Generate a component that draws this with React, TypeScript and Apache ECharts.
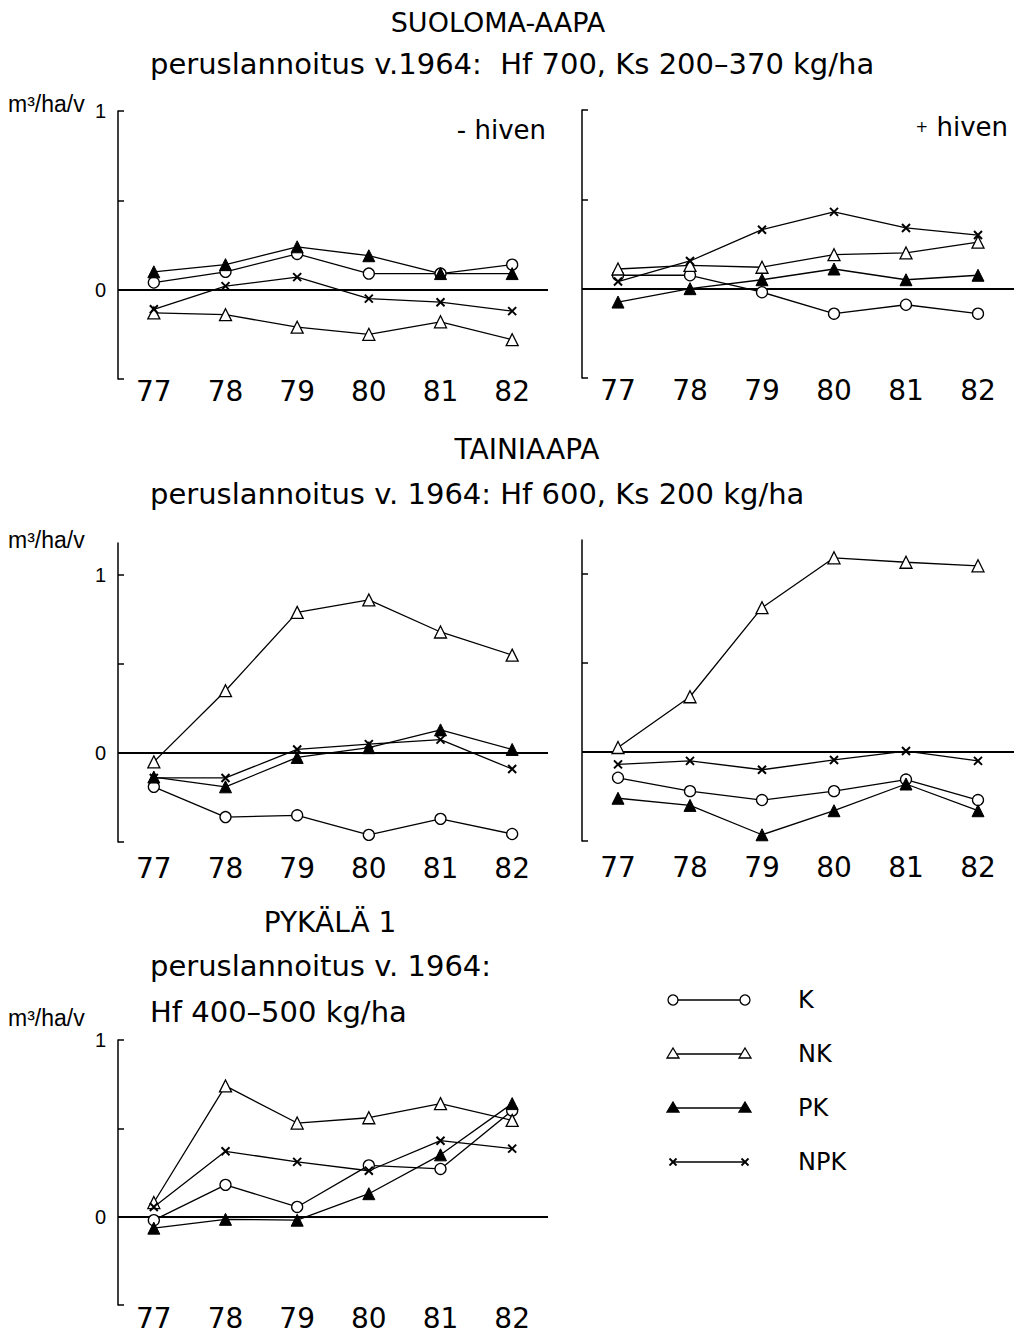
import React, { useEffect, useRef } from "react";
import * as echarts from "echarts";

const years = ["77", "78", "79", "80", "81", "82"];
const seriesNames = ["K", "NK", "PK", "NPK"];

// SUOLOMA-AAPA, - hiven
const suoMinusK = [0.04, 0.1, 0.2, 0.09, 0.09, 0.14];
const suoMinusNK = [-0.13, -0.14, -0.21, -0.25, -0.18, -0.28];
const suoMinusPK = [0.1, 0.14, 0.24, 0.19, 0.09, 0.09];
const suoMinusNPK = [-0.11, 0.02, 0.07, -0.05, -0.07, -0.12];
// SUOLOMA-AAPA, + hiven
const suoPlusK = [0.075, 0.075, -0.02, -0.14, -0.09, -0.14];
const suoPlusNK = [0.11, 0.13, 0.12, 0.19, 0.2, 0.26];
const suoPlusPK = [-0.075, 0.0, 0.05, 0.11, 0.05, 0.075];
const suoPlusNPK = [0.04, 0.155, 0.33, 0.43, 0.34, 0.3];
// TAINIAAPA, left
const taiMinusK = [-0.19, -0.36, -0.35, -0.46, -0.37, -0.455];
const taiMinusNK = [-0.05, 0.35, 0.79, 0.86, 0.68, 0.55];
const taiMinusPK = [-0.135, -0.19, -0.025, 0.03, 0.13, 0.02];
const taiMinusNPK = [-0.14, -0.14, 0.02, 0.05, 0.075, -0.09];
// TAINIAAPA, right
const taiPlusK = [-0.145, -0.22, -0.27, -0.22, -0.155, -0.27];
const taiPlusNK = [0.025, 0.31, 0.81, 1.09, 1.065, 1.045];
const taiPlusPK = [-0.26, -0.3, -0.465, -0.33, -0.18, -0.33];
const taiPlusNPK = [-0.07, -0.05, -0.1, -0.045, 0.005, -0.05];
// PYKÄLÄ 1
const pykK = [-0.02, 0.18, 0.055, 0.29, 0.27, 0.6];
const pykNK = [0.08, 0.74, 0.53, 0.56, 0.64, 0.545];
const pykPK = [-0.065, -0.015, -0.02, 0.13, 0.35, 0.64];
const pykNPK = [0.055, 0.37, 0.31, 0.26, 0.43, 0.385];

const yTickValues = [-0.5, 0, 0.5, 1];
const yLabelValues = [0, 1];

const FONT = "'DejaVu Sans', 'Liberation Sans', Arial, sans-serif";
const THIN = "'Liberation Sans', Arial, sans-serif";

const markerStyles: Record<string, any> = {
  K: { symbol: "circle", symbolSize: 11, itemStyle: { color: "#fff", borderColor: "#000", borderWidth: 1.3 } },
  NK: { symbol: "triangle", symbolSize: 12, itemStyle: { color: "#fff", borderColor: "#000", borderWidth: 1.3 } },
  PK: { symbol: "triangle", symbolSize: 12, itemStyle: { color: "#000", borderColor: "#000", borderWidth: 1 } },
  NPK: {
    symbol: "path://M0,0L10,10M0,10L10,0",
    symbolSize: 8,
    itemStyle: { color: "none", borderColor: "#000", borderWidth: 2 },
  },
};

const panels = [
  { left: 118, top: 111, width: 430, height: 268, max: 1, labels: true, margin: 0, data: [suoMinusK, suoMinusNK, suoMinusPK, suoMinusNPK] },
  { left: 582, top: 110, width: 432, height: 268, max: 1, labels: false, margin: 0, data: [suoPlusK, suoPlusNK, suoPlusPK, suoPlusNPK] },
  { left: 118, top: 543, width: 430, height: 299, max: 1.18, labels: true, margin: 14, data: [taiMinusK, taiMinusNK, taiMinusPK, taiMinusNPK] },
  { left: 582, top: 540, width: 432, height: 301, max: 1.19, labels: false, margin: 14, data: [taiPlusK, taiPlusNK, taiPlusPK, taiPlusNPK] },
  { left: 118, top: 1040, width: 430, height: 265, max: 1, labels: true, margin: 1, data: [pykK, pykNK, pykPK, pykNPK] },
];

function txt(x: number, y: number, text: string, size: number, align = "left", extra: any = {}) {
  return {
    type: "text",
    x,
    y,
    style: { text, fontSize: size, fontFamily: FONT, fill: "#000", align, verticalAlign: "middle", ...extra },
  };
}

function legendItems() {
  const out: any[] = [];
  const x1 = 673;
  const x2 = 745;
  const ys = [1000, 1054, 1108, 1162];
  seriesNames.forEach((name, i) => {
    const y = ys[i];
    out.push({ type: "line", shape: { x1, y1: y, x2, y2: y }, style: { stroke: "#000", lineWidth: 1.3 } });
    [x1, x2].forEach((x) => {
      if (name === "K") {
        out.push({ type: "circle", shape: { cx: x, cy: y, r: 5 }, style: { fill: "#fff", stroke: "#000", lineWidth: 1.3 } });
      } else if (name === "NK" || name === "PK") {
        out.push({
          type: "polygon",
          shape: { points: [[x, y - 6], [x + 6, y + 4], [x - 6, y + 4]] },
          style: { fill: name === "PK" ? "#000" : "#fff", stroke: "#000", lineWidth: 1.3 },
        });
      } else {
        out.push({ type: "line", shape: { x1: x - 3.5, y1: y - 3.5, x2: x + 3.5, y2: y + 3.5 }, style: { stroke: "#000", lineWidth: 1.8 } });
        out.push({ type: "line", shape: { x1: x - 3.5, y1: y + 3.5, x2: x + 3.5, y2: y - 3.5 }, style: { stroke: "#000", lineWidth: 1.8 } });
      }
    });
    out.push(txt(798, y, name, 24));
  });
  return out;
}

export default function App() {
  const ref = useRef<HTMLDivElement>(null);
  useEffect(() => {
    if (!ref.current) return;
    const chart = echarts.init(ref.current, null, { renderer: "svg" });
    const grid: any[] = [];
    const xAxis: any[] = [];
    const yAxis: any[] = [];
    const series: any[] = [];
    panels.forEach((p, gi) => {
      grid.push({ left: p.left, top: p.top, width: p.width, height: p.height, containLabel: false });
      xAxis.push({
        gridIndex: gi,
        type: "category",
        data: years,
        boundaryGap: true,
        axisLine: { show: false },
        axisTick: { show: false },
        axisLabel: { fontSize: 28, lineHeight: 24, color: "#000", margin: p.margin, fontFamily: FONT },
        splitLine: { show: false },
      });
      yAxis.push({
        gridIndex: gi,
        type: "value",
        min: -0.5,
        max: p.max,
        interval: 0.5,
        axisLine: { show: true, lineStyle: { color: "#000", width: 1.5 } },
        axisTick: { show: true, inside: true, length: 6, customValues: yTickValues, lineStyle: { color: "#000", width: 1.5 } },
        axisLabel: {
          show: p.labels,
          customValues: yLabelValues,
          formatter: (v: number) => String(v),
          fontSize: 20,
          color: "#000",
          margin: 12,
          fontFamily: THIN,
        },
        splitLine: { show: false },
      });
      seriesNames.forEach((name, si) => {
        const m = markerStyles[name];
        series.push({
          type: "line",
          name: name + "-" + gi,
          xAxisIndex: gi,
          yAxisIndex: gi,
          data: p.data[si],
          symbol: m.symbol,
          symbolSize: m.symbolSize,
          showAllSymbol: true,
          itemStyle: m.itemStyle,
          lineStyle: { color: "#000", width: 1.3 },
          z: 3,
          markLine:
            si === 0
              ? {
                  silent: true,
                  symbol: ["none", "none"],
                  label: { show: false },
                  lineStyle: { color: "#000", width: 2, type: "solid" },
                  data: [{ yAxis: 0 }],
                  z: 1,
                }
              : undefined,
        });
      });
    });

    const graphic: any[] = [
      txt(498, 22, "SUOLOMA-AAPA", 27, "center"),
      txt(150, 64, "peruslannoitus v.1964:  Hf 700, Ks 200–370 kg/ha", 29),
      txt(8, 104, "m³/ha/v", 23, "left", { fontFamily: THIN }),
      txt(546, 130, "- hiven", 26, "right"),
      {
        type: "text",
        x: 1008,
        y: 127,
        style: {
          text: "{p|+} hiven",
          fontSize: 26,
          fontFamily: FONT,
          fill: "#000",
          align: "right",
          verticalAlign: "middle",
          rich: { p: { fontSize: 15, fontFamily: FONT, fill: "#000" } },
        },
      },
      txt(527, 449, "TAINIAAPA", 28, "center"),
      txt(150, 494, "peruslannoitus v. 1964: Hf 600, Ks 200 kg/ha", 29),
      txt(8, 540, "m³/ha/v", 23, "left", { fontFamily: THIN }),
      txt(330, 922, "PYKÄLÄ 1", 28, "center"),
      txt(150, 966, "peruslannoitus v. 1964:", 29),
      txt(150, 1012, "Hf 400–500 kg/ha", 29),
      txt(8, 1018, "m³/ha/v", 23, "left", { fontFamily: THIN }),
      ...legendItems(),
    ];

    chart.setOption({
      animation: false,
      backgroundColor: "#fff",
      grid,
      xAxis,
      yAxis,
      series,
      graphic,
    });
    return () => chart.dispose();
  }, []);
  return (
    <div
      ref={ref}
      style={{ position: "absolute", left: 0, top: 0, width: 1018, height: 1333, background: "#fff" }}
    />
  );
}
